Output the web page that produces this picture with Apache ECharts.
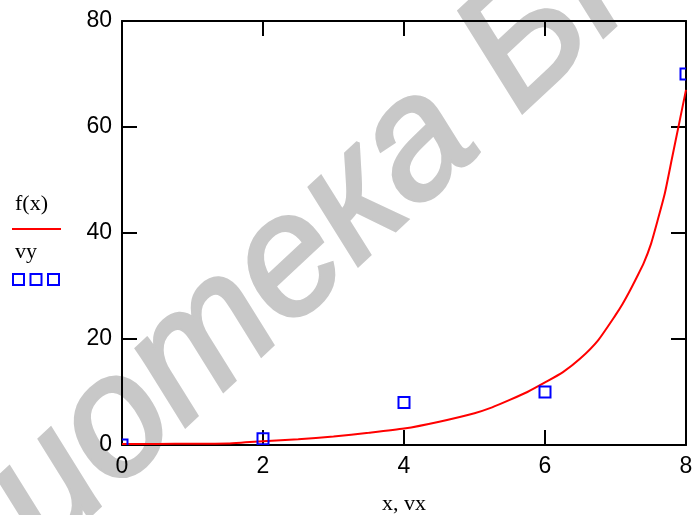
<!DOCTYPE html>
<html>
<head>
<meta charset="utf-8">
<script src="https://cdn.jsdelivr.net/npm/echarts@6/dist/echarts.min.js"></script>
<style>
html,body{margin:0;padding:0;background:#fff;}
#chart{width:694px;height:515px;}
</style>
</head>
<body>
<div id="chart"></div>
<script>
// f(x) curve
const fX = [0, 0.5, 1, 1.5, 1.75, 2, 2.5, 3, 3.5, 4, 4.5, 5, 5.25, 5.5, 5.75, 6, 6.25, 6.5, 6.75, 7, 7.1, 7.2, 7.3, 7.4, 7.5, 7.6, 7.7, 7.8, 7.9, 8];
const fY = [0.2, 0.2, 0.25, 0.3, 0.5, 0.7, 1.1, 1.6, 2.3, 3.1, 4.4, 6.0, 7.1, 8.5, 10, 11.8, 13.7, 16.3, 19.7, 24.5, 26.6, 29, 31.6, 34.3, 37.8, 42.5, 47.5, 54, 60.5, 67];
// measured points vx, vy
const vx = [0, 2, 4, 6, 8];
const vy = [0, 1.2, 8, 10, 70];
// tick labels
const xTicks = [0, 2, 4, 6, 8];
const yTicks = [0, 20, 40, 60, 80];
const xName = 'x, vx';
const legendNames = ['f(x)', 'vy'];
const watermark = 'Библиотека БГУИР';

const chart = echarts.init(document.getElementById('chart'), null, {renderer: 'canvas'});
const labelFont = {color: '#000', fontFamily: '"Liberation Sans", Arial, sans-serif', fontSize: 23};
const serif = '"Liberation Serif", "Times New Roman", serif';
const lineBlack = {color: '#000', width: 2};

function xAxisDef(pos, showLabel) {
  return {
    type: 'value', position: pos,
    min: xTicks[0], max: xTicks[xTicks.length - 1], interval: xTicks[1] - xTicks[0],
    axisLine: {show: true, onZero: false, lineStyle: lineBlack},
    axisTick: {show: true, inside: true, length: 15, lineStyle: lineBlack},
    splitLine: {show: false},
    axisLabel: Object.assign({show: showLabel, margin: 10}, labelFont),
    name: showLabel ? xName : '',
    nameLocation: 'middle', nameGap: 48,
    nameTextStyle: {color: '#000', fontFamily: serif, fontSize: 22}
  };
}
function yAxisDef(pos, showLabel) {
  return {
    type: 'value', position: pos,
    min: yTicks[0], max: yTicks[yTicks.length - 1], interval: yTicks[1] - yTicks[0],
    axisLine: {show: true, onZero: false, lineStyle: lineBlack},
    axisTick: {show: true, inside: true, length: 15, lineStyle: lineBlack},
    splitLine: {show: false},
    axisLabel: Object.assign({show: showLabel, margin: 10}, labelFont)
  };
}

const option = {
  animation: false,
  backgroundColor: '#fff',
  grid: {left: 122, right: 8, top: 21, bottom: 70, containLabel: false, outerBoundsMode: 'none'},
  xAxis: [xAxisDef('bottom', true), xAxisDef('top', false)],
  yAxis: [yAxisDef('left', true), yAxisDef('right', false)],
  graphic: [
    {
      type: 'text', z: -1, silent: true,
      x: 306, y: 249, rotation: 0.75,
      style: {
        text: watermark,
        font: 'italic 170px "Liberation Sans", Arial, sans-serif',
        fill: '#c8c8c8',
        stroke: '#c8c8c8', lineWidth: 4,
        align: 'center', verticalAlign: 'middle',
        textAlign: 'center', textVerticalAlign: 'middle'
      }
    },
    {type: 'text', x: 15, y: 204, style: {text: legendNames[0], font: '22px ' + serif, fill: '#000', verticalAlign: 'middle', textVerticalAlign: 'middle'}},
    {type: 'line', shape: {x1: 12, y1: 229, x2: 61, y2: 229}, style: {stroke: '#ff0000', lineWidth: 2}},
    {type: 'text', x: 15, y: 252, style: {text: legendNames[1], font: '22px ' + serif, fill: '#000', verticalAlign: 'middle', textVerticalAlign: 'middle'}},
    {type: 'rect', shape: {x: 13, y: 274, width: 11, height: 11}, style: {stroke: '#0000ff', lineWidth: 2, fill: null}},
    {type: 'rect', shape: {x: 30.5, y: 274, width: 11, height: 11}, style: {stroke: '#0000ff', lineWidth: 2, fill: null}},
    {type: 'rect', shape: {x: 48, y: 274, width: 11, height: 11}, style: {stroke: '#0000ff', lineWidth: 2, fill: null}}
  ],
  series: [
    {
      name: legendNames[0], type: 'line', xAxisIndex: 0, yAxisIndex: 0,
      data: fX.map((x, i) => [x, fY[i]]),
      showSymbol: false, symbol: 'none', smooth: 0.2,
      lineStyle: {color: '#ff0000', width: 2},
      clip: true, z: 3
    },
    {
      name: legendNames[1], type: 'custom', xAxisIndex: 0, yAxisIndex: 0,
      data: vx.map((x, i) => [x, vy[i]]),
      encode: {x: 0, y: 1},
      clip: true, z: 4,
      renderItem: function (params, api) {
        const p = api.coord([api.value(0), api.value(1)]);
        const h = 5.5;
        return {
          type: 'rect',
          shape: {x: p[0] - h, y: p[1] - h, width: 2 * h, height: 2 * h},
          style: {stroke: '#0000ff', lineWidth: 2, fill: null}
        };
      }
    }
  ]
};
chart.setOption(option);
</script>
</body>
</html>
